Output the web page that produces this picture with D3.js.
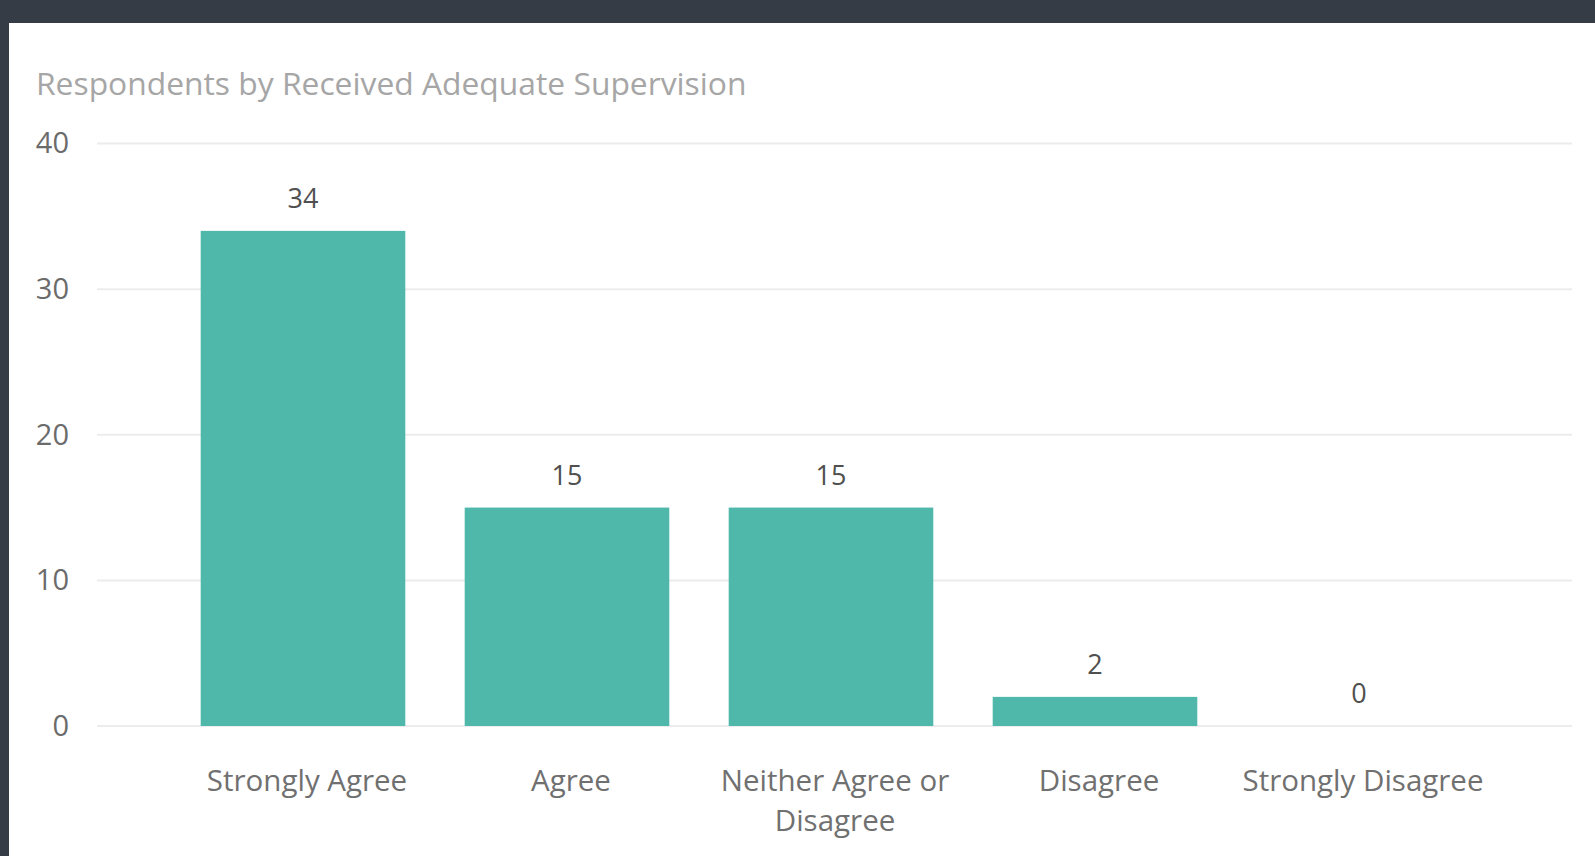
<!DOCTYPE html>
<html>
<head>
<meta charset="utf-8">
<script src="https://cdn.jsdelivr.net/npm/d3@7"></script>
<style>
  html, body { margin: 0; padding: 0; background: #363c46; }
  svg { display: block; }
</style>
</head>
<body>
<svg id="chart" width="1595" height="856"></svg>
<script>
// Survey responses: "Received Adequate Supervision"
const categories = ["Strongly Agree", "Agree", "Neither Agree or Disagree", "Disagree", "Strongly Disagree"];
const respondents = [34, 15, 15, 2, 0];
const yTicks = [0, 10, 20, 30, 40];
const title = "Respondents by Received Adequate Supervision";

const W = 1595, H = 856;
const svg = d3.select("#chart");
const font = "'Open Sans', 'Noto Sans', sans-serif";

// dark frame with white card
svg.append("rect").attr("width", W).attr("height", H).attr("fill", "#363c46");
svg.append("rect").attr("x", 9).attr("y", 23).attr("width", W - 9).attr("height", H - 23).attr("fill", "#ffffff");

svg.append("text")
  .attr("x", 36).attr("y", 95)
  .attr("font-family", font).attr("font-size", 31.8)
  .attr("fill", "#a6a6a6")
  .text(title);

const x = d3.scaleBand().domain(categories).range([171, 1491]).paddingInner(0.225).paddingOuter(0.1125);
const y = d3.scaleLinear().domain([0, 40]).range([726, 143.5]);

// gridlines
svg.append("g").selectAll("line").data(yTicks).join("line")
  .attr("x1", 97).attr("x2", 1572)
  .attr("y1", d => y(d)).attr("y2", d => y(d))
  .attr("stroke", "#ececec").attr("stroke-width", 2);

// y axis labels
const yAxis = svg.append("g").attr("transform", "translate(69,0)")
  .call(d3.axisLeft(y).tickValues(yTicks).tickSize(0).tickPadding(0));
yAxis.select(".domain").remove();
yAxis.selectAll("text")
  .attr("font-family", font).attr("font-size", 29)
  .attr("fill", "#6b6b6b");

// bars
svg.append("g").selectAll("rect").data(respondents).join("rect")
  .attr("x", (d, i) => x(categories[i]))
  .attr("width", x.bandwidth())
  .attr("y", d => y(d))
  .attr("height", d => y(0) - y(d))
  .attr("fill", "#50b8aa");

// value labels
svg.append("g").selectAll("text").data(respondents).join("text")
  .attr("x", (d, i) => x(categories[i]) + x.bandwidth() / 2)
  .attr("y", d => y(d) - 23)
  .attr("text-anchor", "middle")
  .attr("font-family", font).attr("font-size", 27)
  .attr("fill", "#505050")
  .text(d => d);

// category labels, wrapped to the band step
const labelY = 65;
const labelShift = 4;
const xAxis = svg.append("g").attr("transform", `translate(${labelShift},${y(0)})`)
  .call(d3.axisBottom(x).tickSize(0).tickPadding(0));
xAxis.select(".domain").remove();
xAxis.selectAll("text")
  .attr("font-family", font).attr("font-size", 29.5)
  .attr("fill", "#707070")
  .attr("y", labelY).attr("dy", 0)
  .each(function (d) {
    const t = d3.select(this);
    const words = d.split(" ");
    t.text(null);
    let line = [];
    let lineNo = 0;
    let tspan = t.append("tspan").attr("x", 0).attr("y", labelY);
    for (const w of words) {
      line.push(w);
      tspan.text(line.join(" "));
      if (tspan.node().getComputedTextLength() > x.step() && line.length > 1) {
        line.pop();
        tspan.text(line.join(" "));
        line = [w];
        lineNo++;
        tspan = t.append("tspan").attr("x", 0).attr("y", labelY + lineNo * 40).text(w);
      }
    }
  });
</script>
</body>
</html>
